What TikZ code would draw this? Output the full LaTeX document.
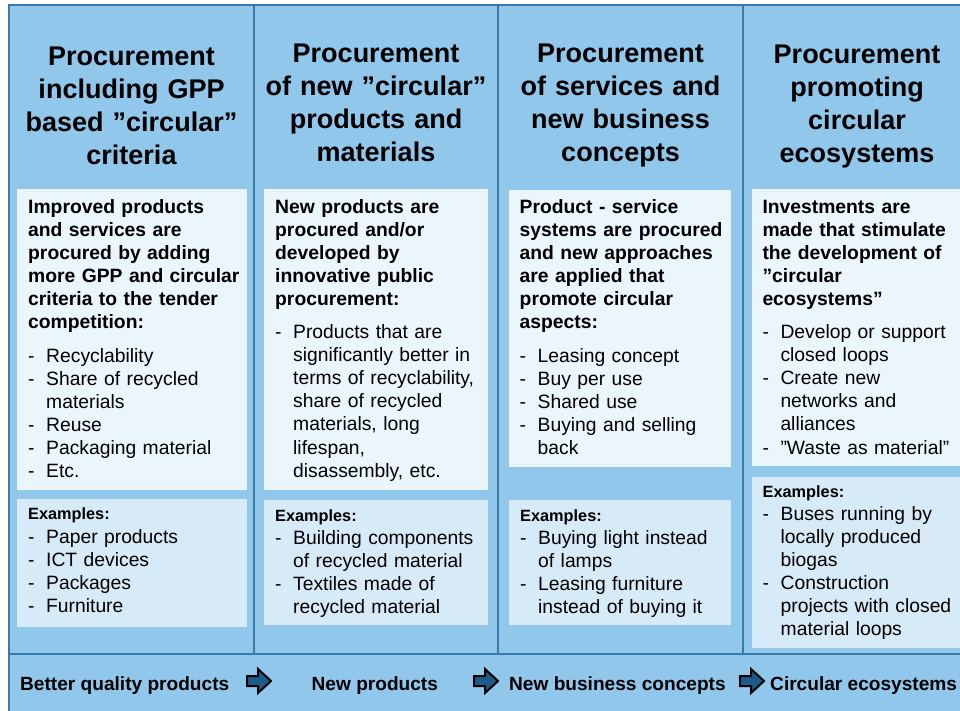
\documentclass[tikz,border=0pt]{standalone}
\usepackage{fontspec}
\setmainfont{Liberation Sans}
\definecolor{colbg}{HTML}{90C7EB}
\definecolor{colline}{HTML}{3A7BAE}
\definecolor{boxtop}{HTML}{EBF5FC}
\definecolor{boxex}{HTML}{D7EAF8}
\definecolor{arrowfill}{HTML}{1D5C8A}
\newcommand\dli[1]{\makebox[18pt][l]{-}#1}
\newcommand\dlc[1]{\hspace*{18pt}#1}
\newcommand\flowarrow[1]{\draw[flowarrow] (#1,676) -- (#1+11,676) -- (#1+11,669) -- (#1+24,681) -- (#1+11,693) -- (#1+11,686) -- (#1,686) -- cycle;}
\begin{document}
\begin{tikzpicture}[x=1pt,y=-1pt,
  frame/.style={draw=colline, line width=2.5pt},
  title/.style={anchor=base, align=center, text width=240pt, inner sep=0pt, font=\fontsize{27}{33}\selectfont\bfseries},
  intro/.style={anchor=base west, align=left, text width=215pt, inner sep=0pt, font=\fontsize{19.3}{23.1}\selectfont\bfseries},
  body/.style={anchor=base west, align=left, text width=215pt, inner sep=0pt, font=\fontsize{19.3}{23.1}\selectfont},
  exlabel/.style={anchor=base west, inner sep=0pt, font=\fontsize{16.3}{20}\selectfont\bfseries},
  bartext/.style={anchor=base west, inner sep=0pt, font=\fontsize{19.1}{23}\selectfont\bfseries},
  flowarrow/.style={draw=black, fill=arrowfill, line width=2pt, line join=miter},
  panel/.style={fill=boxtop},
  expanel/.style={fill=boxex},
]
\useasboundingbox (0,0) rectangle (960,710);
\clip (0,0) rectangle (960,710);
\fill[white] (0,0) rectangle (960,710);
\fill[colbg] (9,5) rectangle (975,720);
\draw[frame] (9,720) -- (9,5) -- (975,5);
\draw[frame] (9,654) -- (975,654);
\foreach \x in {254,498,743} \draw[frame] (\x,5) -- (\x,654);

% panels
\fill[panel] (17,189) rectangle (247,490);
\fill[panel] (264,189) rectangle (488,490);
\fill[panel] (509,190) rectangle (731,467);
\fill[panel] (752,189) rectangle (975,466);
\fill[expanel] (17,499) rectangle (247,627);
\fill[expanel] (264,500) rectangle (488,625);
\fill[expanel] (509,500) rectangle (731,625);
\fill[expanel] (752,477) rectangle (975,648);

% titles
\node[title] (t1) at (131.5,65.5) {Procurement\\including GPP\\based ”circular”\\criteria};
\node[title] (t2) at (376,62.3) {Procurement\\of new ”circular”\\products and\\materials};
\node[title] (t3) at (620.5,62.3) {Procurement\\of services and\\new business\\concepts};
\node[title] (t4) at (857,63.3) {Procurement\\promoting\\circular\\ecosystems};

% column 1
\node[intro] (i1) at (28,213) {Improved products\\and services are\\procured by adding\\more GPP and circular\\criteria to the tender\\competition:};
\node[body] (l1) at (28,362) {\dli{Recyclability}\\\dli{Share of recycled}\\\dlc{materials}\\\dli{Reuse}\\\dli{Packaging material}\\\dli{Etc.}};
\node[exlabel] (x1) at (28,519.5) {Examples:};
\node[body] (e1) at (28,543.3) {\dli{Paper products}\\\dli{ICT devices}\\\dli{Packages}\\\dli{Furniture}};

% column 2
\node[intro] (i2) at (275,213) {New products are\\procured and/or\\developed by\\innovative public\\procurement:};
\node[body] (l2) at (275,338.5) {\dli{Products that are}\\\dlc{significantly better in}\\\dlc{terms of recyclability,}\\\dlc{share of recycled}\\\dlc{materials, long}\\\dlc{lifespan,}\\\dlc{disassembly, etc.}};
\node[exlabel] (x2) at (275,521.7) {Examples:};
\node[body] (e2) at (275,544.3) {\dli{Building components}\\\dlc{of recycled material}\\\dli{Textiles made of}\\\dlc{recycled material}};

% column 3
\node[intro] (i3) at (519.5,213) {Product - service\\systems are procured\\and new approaches\\are applied that\\promote circular\\aspects:};
\node[body] (l3) at (519.5,362) {\dli{Leasing concept}\\\dli{Buy per use}\\\dli{Shared use}\\\dli{Buying and selling}\\\dlc{back}};
\node[exlabel] (x3) at (520,521.7) {Examples:};
\node[body] (e3) at (520,544.3) {\dli{Buying light instead}\\\dlc{of lamps}\\\dli{Leasing furniture}\\\dlc{instead of buying it}};

% column 4
\node[intro] (i4) at (762.3,213) {Investments are\\made that stimulate\\the development of\\”circular\\ecosystems”};
\node[body] (l4) at (762.3,338.5) {\dli{Develop or support}\\\dlc{closed loops}\\\dli{Create new}\\\dlc{networks and}\\\dlc{alliances}\\\dli{”Waste as material”}};
\node[exlabel] (x4) at (762.5,497.3) {Examples:};
\node[body] (e4) at (762.5,520.3) {\dli{Buses running by}\\\dlc{locally produced}\\\dlc{biogas}\\\dli{Construction}\\\dlc{projects with closed}\\\dlc{material loops}};

% bottom bar
\node[bartext] (b1) at (20,690.7) {Better quality products};
\node[bartext] (b2) at (311.5,690.7) {New products};
\node[bartext] (b3) at (509,690.7) {New business concepts};
\node[bartext] (b4) at (770,690.7) {Circular ecosystems};
\flowarrow{247}
\flowarrow{474}
\flowarrow{740}
\end{tikzpicture}
\end{document}
